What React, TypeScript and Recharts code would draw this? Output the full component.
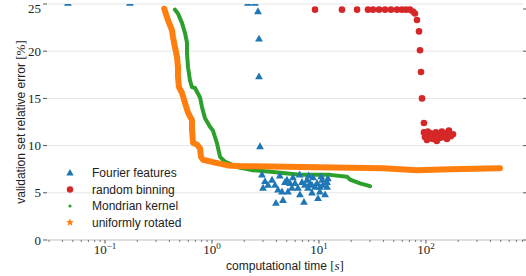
import { ComposedChart, Line, Scatter, XAxis, YAxis, CartesianGrid } from 'recharts'

const SANS = '"Liberation Sans", Arial, sans-serif'
const SERIF = '"Liberation Serif", "DejaVu Serif", serif'

// Fourier features (blue triangles); the first four sit just above the top edge and are clipped
const fourierX = [0.045, 0.171, 2.17, 2.52, 2.69, 2.75, 2.75, 2.81,
  3.0, 3.13, 3.34, 3.64, 3.88, 3.96, 4.14, 4.51, 4.61, 4.81, 5.02, 5.13, 5.36, 5.59, 5.71, 5.97,
  6.36, 6.64, 6.94, 7.24, 7.4, 7.73, 7.89, 8.24, 8.6, 8.79, 9.18, 9.58, 9.79, 10.2, 10.7, 10.9,
  11.4, 11.9, 11.9, 10.2, 8.6, 2.93, 4.3, 6.6, 8.0, 10.5, 12.1]
const fourierY = [25.1, 25.1, 25.1, 25.1, 24.2, 21.3, 17.3, 9.9,
  5.5, 6.2, 5.8, 6.35, 5.8, 3.9, 5.3, 5.1, 4.2, 6.1, 6.35, 5.1, 6.0, 5.5, 6.6, 6.0,
  5.5, 4.8, 6.1, 4.0, 5.8, 6.35, 5.5, 6.0, 5.0, 6.6, 5.6, 6.0, 4.4, 5.6, 6.35, 5.8,
  4.8, 6.1, 5.6, 5.1, 5.8, 6.9, 6.8, 6.9, 6.8, 6.7, 6.5]

// random binning (red circles)
const binningX = [9.18, 16.4, 22.7, 28.7, 32.0, 36.4, 41.4, 47.1, 53.6, 59.7, 65.0, 70.8, 75.6, 78.9,
  82.4, 86.1, 87.9, 89.8, 91.8, 95.7,
  95.7, 97.7, 99.7, 102, 104, 109, 111, 116, 118, 124, 126, 132, 135, 141, 147, 154, 157, 164, 171, 179]
const binningY = [24.4, 24.4, 24.4, 24.4, 24.4, 24.4, 24.4, 24.4, 24.4, 24.4, 24.4, 24.4, 24.2, 24.0,
  23.3, 22.1, 20.1, 17.8, 15.0, 12.4,
  11.4, 10.9, 11.2, 10.6, 11.5, 10.8, 11.3, 10.7, 11.0, 11.4, 10.5, 11.2, 10.8, 11.5, 10.9, 11.3, 10.7, 11.6, 11.0, 11.2]

// Mondrian kernel (green)
const mondrianX = [0.451, 0.481, 0.524, 0.56, 0.584, 0.584, 0.597, 0.623, 0.65, 0.694, 0.773, 0.806, 0.86,
  0.958, 1.02, 1.11, 1.19, 1.32, 1.75, 2.36, 3.72, 6.64, 12.7, 18.3, 19.5, 24.2, 30.0]
const mondrianY = [24.4, 24.0, 23.0, 21.9, 20.9, 19.8, 18.3, 16.9, 16.2, 16.1, 15.1, 14.1, 12.9,
  12.0, 11.6, 10.3, 8.8, 8.3, 7.7, 7.4, 7.2, 6.9, 6.9, 6.7, 6.4, 6.0, 5.7]

// uniformly rotated (orange)
const rotatedX = [0.358, 0.372, 0.388, 0.423, 0.432, 0.451, 0.471, 0.481, 0.481, 0.491, 0.524, 0.56, 0.597,
  0.65, 0.65, 0.665, 0.724, 0.773, 0.789, 0.824, 1.07, 1.41, 1.91, 2.52, 9.58, 39.6, 82.4, 167, 492]
const rotatedY = [24.5, 23.9, 23.3, 22.2, 21.5, 20.4, 19.4, 18.3, 17.3, 16.2, 15.6, 14.5, 13.5,
  12.7, 11.7, 10.3, 10.1, 9.7, 8.8, 8.5, 8.2, 7.9, 7.8, 7.8, 7.7, 7.6, 7.4, 7.5, 7.6]

const xTicks = [0.03, 0.04, 0.05, 0.06, 0.07, 0.08, 0.09,
  0.1, 0.2, 0.3, 0.4, 0.5, 0.6, 0.7, 0.8, 0.9,
  1, 2, 3, 4, 5, 6, 7, 8, 9,
  10, 20, 30, 40, 50, 60, 70, 80, 90,
  100, 200, 300, 400, 500, 600, 700, 800]
const yTicks = [0, 5, 10, 15, 20, 25]

const legendNames = ['Fourier features', 'random binning', 'Mondrian kernel', 'uniformly rotated']
const colors = ['#1f77b4', '#d62728', '#2ca02c', '#ff7f0e']

const zip = (xs: number[], ys: number[]) => xs.map((x, i) => ({ x, y: ys[i] }))
const fourierData = zip(fourierX, fourierY)
const binningData = zip(binningX, binningY)
const mondrianData = zip(mondrianX, mondrianY)
const rotatedData = zip(rotatedX, rotatedY)

const isMajor = (v: number) => Math.abs(Math.log10(v) - Math.round(Math.log10(v))) < 1e-9

const BottomTick = ({ x, y, payload }: any) => {
  const v = payload.value
  const major = isMajor(v)
  const e = Math.round(Math.log10(v))
  return (
    <g>
      <line x1={x} x2={x} y1={y} y2={y + (major ? 3.5 : 2)} stroke="#555" strokeWidth={major ? 1 : 0.8} />
      {major && (
        <text x={x} y={y + 14} textAnchor="middle" fontFamily={SERIF} fontSize={13} fill="#222">
          10<tspan dy={-5} fontSize={9}>{e < 0 ? `\u2212${-e}` : `${e}`}</tspan>
        </text>
      )}
    </g>
  )
}

const TopTick = ({ x, y, payload }: any) => {
  const major = isMajor(payload.value)
  return <line x1={x} x2={x} y1={y} y2={y - (major ? 3.5 : 2)} stroke="#555" strokeWidth={major ? 1 : 0.8} />
}

const RightTick = ({ x, y }: any) => <line x1={x} x2={x + 3} y1={y} y2={y} stroke="#555" />

const Triangle = ({ cx, cy, fill }: any) => {
  if (cx == null || cy == null) return <g />
  return <path d={`M${cx},${cy - 4.3}L${cx - 3.9},${cy + 2.6}L${cx + 3.9},${cy + 2.6}Z`} fill={fill} />
}

const Dot = ({ cx, cy, fill }: any) => {
  if (cx == null || cy == null) return <g />
  return <circle cx={cx} cy={cy} r={3.3} fill={fill} />
}

const starPath = (cx: number, cy: number, r: number) => {
  let d = ''
  for (let i = 0; i < 10; i++) {
    const rr = i % 2 === 0 ? r : r * 0.45
    const a = -Math.PI / 2 + (i * Math.PI) / 5
    d += `${i === 0 ? 'M' : 'L'}${cx + rr * Math.cos(a)},${cy + rr * Math.sin(a)}`
  }
  return d + 'Z'
}

const YLabel = () => (
  <text x={25} y={122} transform="rotate(-90 25 122)" textAnchor="middle" fontSize={12} fill="#222" fontFamily={SANS}>
    validation set relative error <tspan fontFamily={SERIF} fontSize={13}>[%]</tspan>
  </text>
)

const XLabel = () => (
  <text x={285} y={270} textAnchor="middle" fontSize={12} fill="#222" fontFamily={SANS}>
    computational time <tspan fontFamily={SERIF} fontSize={13}>[<tspan fontStyle="italic">s</tspan>]</tspan>
  </text>
)

function LegendBox() {
  const rows = [173, 189.5, 206, 222.5]
  return (
    <svg width={526} height={276} style={{ position: 'absolute', left: 0, top: 0, pointerEvents: 'none' }}>
      {legendNames.map((name, i) => {
        const cy = rows[i]
        let marker
        if (i === 0) marker = <path d={`M70,${cy - 4}L66.3,${cy + 2.5}L73.7,${cy + 2.5}Z`} fill={colors[0]} />
        else if (i === 1) marker = <circle cx={70} cy={cy} r={3.2} fill={colors[1]} />
        else if (i === 2) marker = <circle cx={70} cy={cy} r={1.6} fill={colors[2]} />
        else marker = <path d={starPath(70, cy, 4)} fill={colors[3]} />
        return (
          <g key={name}>
            {marker}
            <text x={92} y={cy + 4} fontFamily={SANS} fontSize={12} fill="#222">{name}</text>
          </g>
        )
      })}
    </svg>
  )
}

export default function App() {
  return (
    <div style={{ position: 'absolute', left: 0, top: 0, width: 526, height: 276, background: '#fff' }}>
      <ComposedChart width={526} height={276} margin={{ top: 4, right: 0, bottom: 0, left: 0 }}>
        <CartesianGrid vertical={false} stroke="#e6e6e6" />
        <XAxis
          dataKey="x"
          type="number"
          scale="log"
          domain={[0.0287, 807]}
          allowDataOverflow
          ticks={xTicks}
          interval={0}
          height={36}
          tickSize={0}
          tickMargin={0}
          tickLine={false}
          axisLine={{ stroke: '#cccccc' }}
          tick={<BottomTick />}
          label={<XLabel />}
        />
        <XAxis
          xAxisId="top"
          orientation="top"
          dataKey="x"
          type="number"
          scale="log"
          domain={[0.0287, 807]}
          allowDataOverflow
          ticks={xTicks}
          interval={0}
          height={0}
          tickSize={0}
          tickMargin={0}
          tickLine={false}
          axisLine={false}
          tick={<TopTick />}
        />
        <YAxis
          type="number"
          domain={[0, 25]}
          allowDataOverflow
          ticks={yTicks}
          width={47}
          tickSize={4}
          tickMargin={2}
          axisLine={false}
          tickLine={{ stroke: '#555' }}
          tick={{ fontFamily: SERIF, fontSize: 13, fill: '#222' }}
          label={<YLabel />}
        />
        <YAxis
          yAxisId="right"
          orientation="right"
          type="number"
          domain={[0, 25]}
          allowDataOverflow
          ticks={yTicks}
          width={3}
          tickSize={0}
          tickMargin={0}
          axisLine={false}
          tickLine={false}
          tick={<RightTick />}
        />
        <Scatter data={fourierData} dataKey="y" fill={colors[0]} shape={<Triangle />} isAnimationActive={false} />
        <Scatter data={binningData} dataKey="y" fill={colors[1]} shape={<Dot />} isAnimationActive={false} />
        <Line data={mondrianData} dataKey="y" type="linear" stroke={colors[2]} strokeWidth={4}
          strokeLinejoin="round" strokeLinecap="round" dot={false} isAnimationActive={false} />
        <Line data={rotatedData} dataKey="y" type="linear" stroke={colors[3]} strokeWidth={6}
          strokeLinejoin="round" strokeLinecap="round" dot={false} isAnimationActive={false} />
      </ComposedChart>
      <LegendBox />
    </div>
  )
}
